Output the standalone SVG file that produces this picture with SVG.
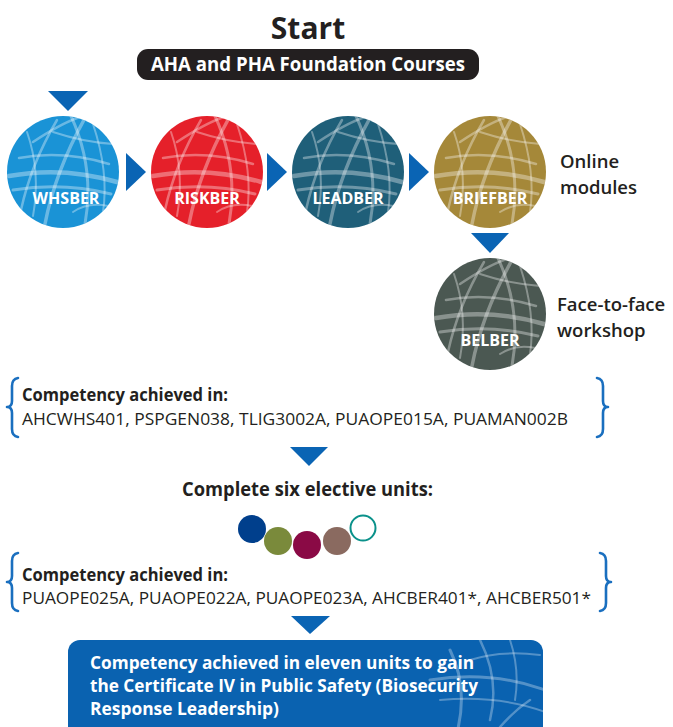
<svg xmlns="http://www.w3.org/2000/svg" width="673" height="727" viewBox="0 0 673 727">
<style>
.t{font-family:"Open Sans","Noto Sans","Liberation Sans",sans-serif;fill:#231f20}
.b{font-weight:700}
.sb{font-weight:600}
.lbl{font-family:"Open Sans","Noto Sans","Liberation Sans",sans-serif;font-weight:700;font-size:16px;fill:#ffffff;text-anchor:middle}
.arr{fill:#0a64b4}
.brace{fill:none;stroke:#1a6fbf;stroke-width:2.6;stroke-linecap:round;stroke-linejoin:round}
.net{fill:none;stroke:#ffffff;stroke-linecap:round}
</style>
<defs>
<clipPath id="cc"><circle cx="0" cy="0" r="56"/></clipPath>
<g id="tex" clip-path="url(#cc)">
<g class="net" stroke-opacity="0.35">
<path d="M-54,4 Q0,-6 54,10" stroke-width="4.5"/>
<path d="M-50,18 Q0,10 48,22" stroke-width="3"/>
<path d="M-44,-14 Q0,-22 46,-8" stroke-width="2.5"/>
<path d="M-18,52 Q-8,0 22,-54" stroke-width="3.5"/>
<path d="M-42,38 Q-32,-8 -6,-52" stroke-width="2.5"/>
<path d="M8,-56 Q32,-4 22,52" stroke-width="3"/>
<path d="M30,-48 Q46,0 40,40" stroke-width="2"/>
<path d="M-36,-40 Q-22,0 -30,44" stroke-width="2"/>
<path d="M-10,-40 Q20,-30 50,-28" stroke-width="2"/>
<path d="M-30,-30 Q0,-50 20,-56" stroke-width="2.5"/>
<path d="M10,40 Q25,30 45,34" stroke-width="2"/>
</g>
</g>
<clipPath id="bc"><rect x="68" y="640" width="475" height="100" rx="12"/></clipPath>
</defs>

<g id="start">
<text class="t b" x="308" y="39" font-size="30" text-anchor="middle">Start</text>
</g>
<g id="foundation">
<rect x="137" y="49" width="342" height="31" rx="11" fill="#231f20"/>
<text class="b" x="308" y="71" font-family="Open Sans, Noto Sans, sans-serif" font-size="19" fill="#ffffff" text-anchor="middle" textLength="314" lengthAdjust="spacingAndGlyphs">AHA and PHA Foundation Courses</text>
</g>

<g id="connectors">
<polygon class="arr" points="48,91 88,91 68,111"/>
<polygon class="arr" points="126,153 146,172 126,191"/>
<polygon class="arr" points="267,153 287,172 267,191"/>
<polygon class="arr" points="409,153 429,172 409,191"/>
<polygon class="arr" points="471,233 509,233 490,253"/>
<polygon class="arr" points="290,447 328,447 309,466"/>
<polygon class="arr" points="291,616 330,616 310,634"/>
</g>

<g id="whsber" transform="translate(63,172)">
<circle r="56" fill="#1a93d6"/>
<use href="#tex"/>
<text class="lbl" x="3" y="32">WHSBER</text>
</g>
<g id="riskber" transform="translate(207,172)">
<circle r="56" fill="#e5202a"/>
<use href="#tex"/>
<text class="lbl" x="0" y="32">RISKBER</text>
</g>
<g id="leadber" transform="translate(348,172)">
<circle r="56" fill="#1f5f79"/>
<use href="#tex"/>
<text class="lbl" x="0" y="32">LEADBER</text>
</g>
<g id="briefber" transform="translate(490,172)">
<circle r="56" fill="#a58839"/>
<use href="#tex"/>
<text class="lbl" x="0" y="32">BRIEFBER</text>
</g>
<g id="online">
<text class="t sb" x="560" y="168" font-size="18.5">Online</text>
<text class="t sb" x="560" y="194" font-size="18.5">modules</text>
</g>
<g id="belber" transform="translate(490,314)">
<circle r="56" fill="#4b5852"/>
<use href="#tex"/>
<text class="lbl" x="0" y="32">BELBER</text>
</g>
<g id="f2f">
<text class="t sb" x="557" y="311" font-size="18.5">Face-to-face</text>
<text class="t sb" x="557" y="337" font-size="18.5">workshop</text>
</g>

<g id="competency1">
<path class="brace" d="M18,378 Q12,379 12,386 L12,401 Q12,407 7,407 Q12,407 12,413 L12,429 Q12,436 18,437"/>
<path class="brace" d="M597,378 Q603,379 603,386 L603,401 Q603,407 608,407 Q603,407 603,413 L603,429 Q603,436 597,437"/>
<text class="t b" x="22" y="401" font-size="17" textLength="206" lengthAdjust="spacingAndGlyphs">Competency achieved in:</text>
<text class="t" x="22" y="425" font-size="17" textLength="546" lengthAdjust="spacingAndGlyphs">AHCWHS401, PSPGEN038, TLIG3002A, PUAOPE015A, PUAMAN002B</text>
</g>

<g id="electives">
<text class="t b" x="182" y="496" font-size="19" textLength="251" lengthAdjust="spacingAndGlyphs">Complete six elective units:</text>
<circle cx="252" cy="529" r="14" fill="#003f8c"/>
<circle cx="278" cy="541" r="14" fill="#7a8a3b"/>
<circle cx="307" cy="545" r="14" fill="#8a0a45"/>
<circle cx="337" cy="541" r="14" fill="#8a6a60"/>
<circle cx="363" cy="528" r="12.5" fill="#ffffff" stroke="#0a918a" stroke-width="2"/>
</g>

<g id="competency2">
<path class="brace" d="M18,553 Q12,554 12,561 L12,576 Q12,582 7,582 Q12,582 12,588 L12,603 Q12,610 18,611"/>
<path class="brace" d="M600,553 Q606,554 606,561 L606,576 Q606,582 611,582 Q606,582 606,588 L606,603 Q606,610 600,611"/>
<text class="t b" x="22" y="581" font-size="17" textLength="206" lengthAdjust="spacingAndGlyphs">Competency achieved in:</text>
<text class="t" x="22" y="604" font-size="17" textLength="569" lengthAdjust="spacingAndGlyphs">PUAOPE025A, PUAOPE022A, PUAOPE023A, AHCBER401*, AHCBER501*</text>
</g>

<g id="certificate">
<rect x="68" y="640" width="475" height="100" rx="12" fill="#0a62b0"/>
<g clip-path="url(#bc)" class="net" stroke-opacity="0.3">
<path d="M450,650 Q470,690 455,740" stroke-width="3"/>
<path d="M480,640 Q500,680 490,720" stroke-width="2.5"/>
<path d="M430,680 Q490,670 545,690" stroke-width="3"/>
<path d="M440,700 Q500,695 545,712" stroke-width="2"/>
<path d="M510,640 Q520,670 515,700" stroke-width="2"/>
<path d="M470,660 Q500,650 540,655" stroke-width="2"/>
<path d="M500,727 Q515,710 530,700" stroke-width="2.5"/>
</g>
<text class="b" font-family="Open Sans, Noto Sans, sans-serif" font-size="18" fill="#ffffff" x="90" y="669" textLength="384" lengthAdjust="spacingAndGlyphs">Competency achieved in eleven units to gain</text>
<text class="b" font-family="Open Sans, Noto Sans, sans-serif" font-size="18" fill="#ffffff" x="90" y="692" textLength="388" lengthAdjust="spacingAndGlyphs">the Certificate IV in Public Safety (Biosecurity</text>
<text class="b" font-family="Open Sans, Noto Sans, sans-serif" font-size="18" fill="#ffffff" x="90" y="715" textLength="189" lengthAdjust="spacingAndGlyphs">Response Leadership)</text>
</g>
</svg>
